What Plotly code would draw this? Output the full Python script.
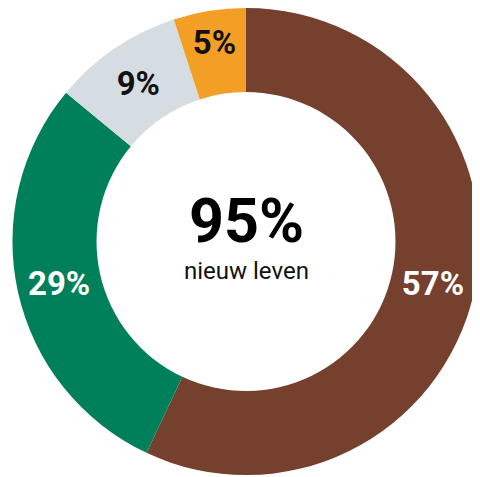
import plotly.graph_objects as go

labels = ["Nieuw leven A", "Nieuw leven B", "Overig", "Rest"]
values = [57, 29, 9, 5]
colors = ["#76402E", "#00805A", "#D5DDE3", "#F39F25"]
text_colors = ["#FFFFFF", "#FFFFFF", "#111111", "#111111"]
center_value = "95%"
center_label = "nieuw leven"

W, H = 480, 477
OFF = 8  # page body margin offset
cx, cy, R = 246 - OFF, 241.3 - OFF, 233.8

fig = go.Figure(go.Pie(
    labels=labels,
    values=values,
    hole=0.64,
    sort=False,
    direction="clockwise",
    rotation=0,
    marker=dict(colors=colors, line=dict(width=0)),
    texttemplate="%{value}%",
    textposition="inside",
    insidetextorientation="horizontal",
    insidetextfont=dict(family="Roboto", size=33, color=text_colors, weight="bold"),
    domain=dict(x=[(cx - R) / W, (cx + R) / W], y=[max(0, (H - cy - R) / H), min(1, (H - cy + R) / H)]),
    showlegend=False,
    hoverinfo="none",
))

fig.add_annotation(x=cx / W, y=(H - (221 - OFF)) / H, xref="paper", yref="paper",
                   text="<b>" + center_value + "</b>", showarrow=False,
                   font=dict(family="Roboto", size=61, color="#000000"))
fig.add_annotation(x=cx / W, y=(H - (271 - OFF)) / H, xref="paper", yref="paper",
                   text=center_label, showarrow=False,
                   font=dict(family="Roboto", size=24, color="#111111"))

fig.update_layout(width=W, height=H, margin=dict(l=0, r=0, t=0, b=0),
                  paper_bgcolor="white", plot_bgcolor="white",
                  uniformtext=dict(minsize=33, mode="show"))

fig.write_html("out.html")
